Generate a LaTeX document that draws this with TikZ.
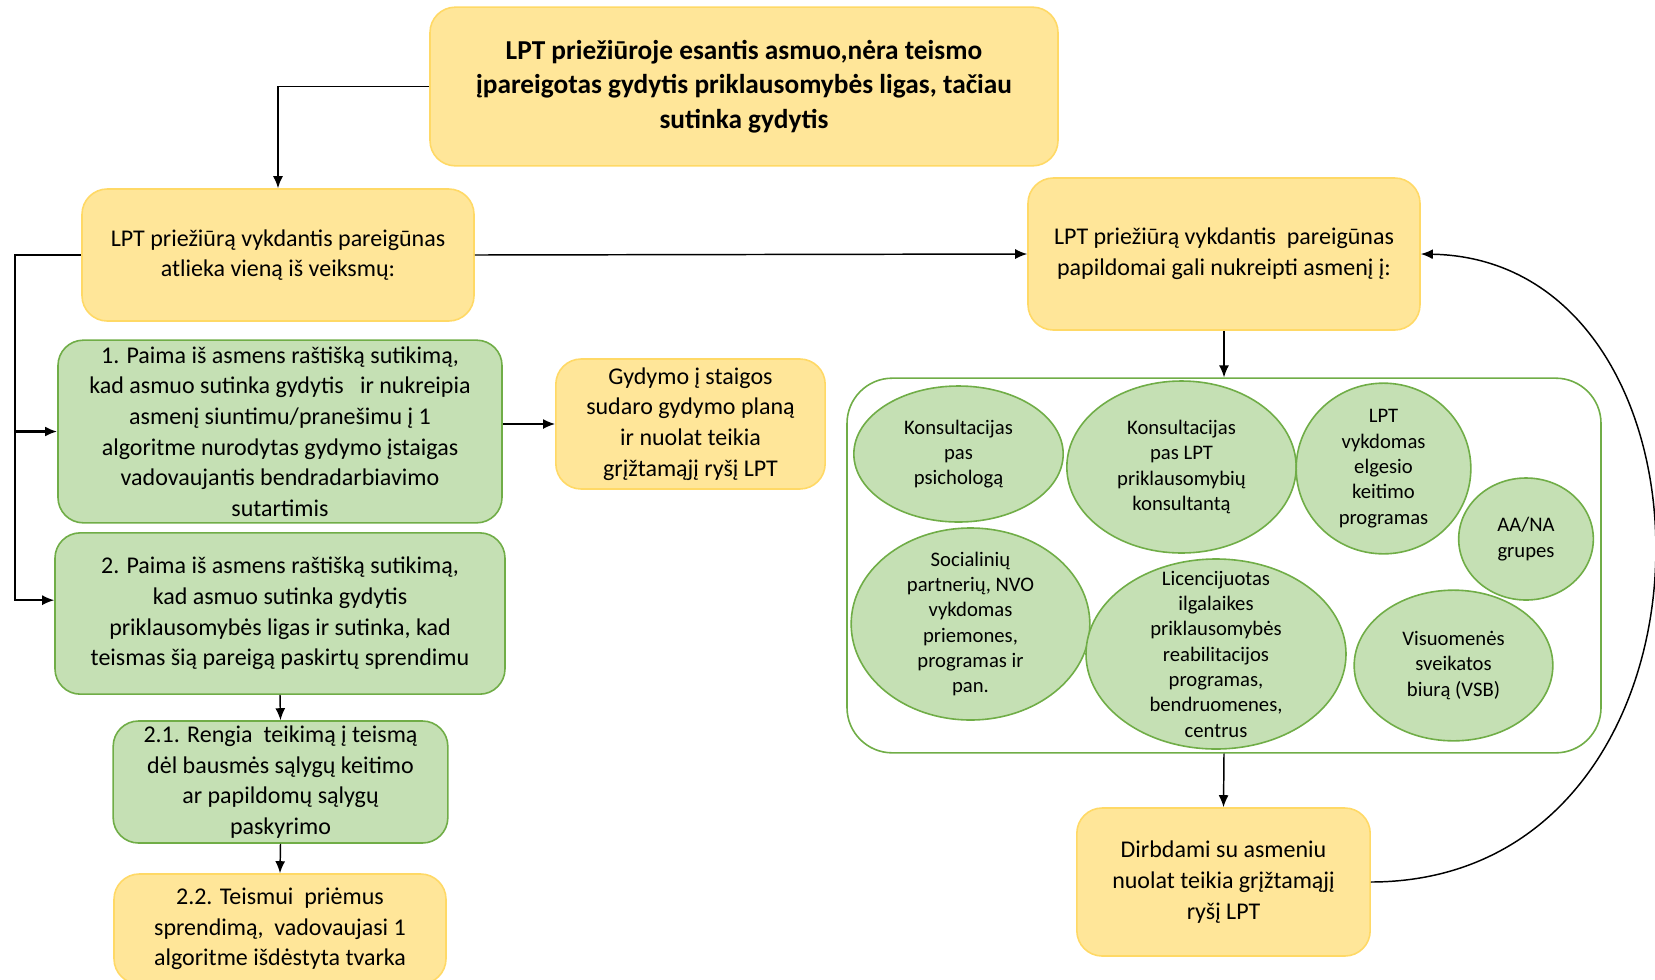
\documentclass[tikz,border=0pt]{standalone}
\usepackage{fontspec}
\setmainfont{Carlito}
\usetikzlibrary{shapes.geometric,arrows.meta}
\definecolor{ylwfill}{HTML}{FFE699}
\definecolor{ylwline}{HTML}{FFD966}
\definecolor{grnfill}{HTML}{C5E0B4}
\definecolor{grnline}{HTML}{70AD47}

\begin{document}
\begin{tikzpicture}[x=0.75pt,y=0.75pt,yscale=-1,xscale=1,>={Latex[length=9pt,width=7.5pt]},
  ybox/.style={draw=ylwline,fill=ylwfill,line width=1.2pt,rounded corners=19pt,align=center,inner sep=0pt,font=\fontsize{18}{23}\selectfont},
  gbox/.style={ybox,draw=grnline,fill=grnfill},
  bubble/.style={ellipse,draw=grnline,fill=grnfill,line width=1.2pt,inner sep=0pt},
  btext/.style={align=center,inner sep=0pt,font=\fontsize{15.5}{19}\selectfont},
  link/.style={->,line width=1.1pt}]
\useasboundingbox (0,0) rectangle (1655,979);

% Top box
\node [ybox,minimum width=471pt,minimum height=119pt,font=\fontsize{20.5}{25.7}\selectfont\bfseries] (top) at (744,86.5) {LPT priežiūroje esantis asmuo,nėra teismo\\įpareigotas gydytis priklausomybės ligas, tačiau\\sutinka gydytis};

% Left column
\node [ybox,minimum width=294pt,minimum height=99pt] (act) at (278,255) {LPT priežiūrą vykdantis pareigūnas\\atlieka vieną iš veiksmų:};
\node [gbox,minimum width=333pt,minimum height=137pt] (g1) at (280,431.5) {1. Paima iš asmens raštišką sutikimą,\\kad asmuo sutinka gydytis \ \ ir nukreipia\\asmenį siuntimu/pranešimu į 1\\algoritme nurodytas gydymo įstaigas\\vadovaujantis bendradarbiavimo\\sutartimis};
\node [ybox,minimum width=202pt,minimum height=97.5pt] (gyd) at (690.5,424) {Gydymo į staigos\\sudaro gydymo planą\\ir nuolat teikia\\grįžtamąjį ryšį LPT};
\node [gbox,minimum width=337.5pt,minimum height=121pt] (g2) at (280,613.5) {2. Paima iš asmens raštišką sutikimą,\\kad asmuo sutinka gydytis\\priklausomybės ligas ir sutinka, kad\\teismas šią pareigą paskirtų sprendimu};
\node [gbox,minimum width=251pt,minimum height=91.5pt] (g21) at (280.5,782) {2.1. Rengia \ teikimą į teismą\\dėl bausmės sąlygų keitimo\\ar papildomų sąlygų\\paskyrimo};
\node [ybox,minimum width=249pt,minimum height=82.5pt] (g22) at (280,929) {2.2. Teismui \ priėmus\\sprendimą, \ vadovaujasi 1\\algoritme išdėstyta tvarka};

% Right column
\node [ybox,minimum width=294pt,minimum height=114pt] (rbox) at (1224,254) {LPT priežiūrą vykdantis \ pareigūnas\\papildomai gali nukreipti asmenį į:};
\node [draw=grnline,line width=1.2pt,rounded corners=34pt,minimum width=565.5pt,minimum height=281pt] (cont) at (1224,565.5) {};
\node [ybox,minimum width=220pt,minimum height=111pt] (dirb) at (1223.5,882) {Dirbdami su asmeniu\\nuolat teikia grįžtamąjį\\ryšį LPT};

% Bubbles
\node [bubble,minimum width=157pt,minimum height=102pt,label={[btext]center:Konsultacijas\\pas\\psichologą}] (psi) at (958.5,454) {};
\node [bubble,minimum width=172pt,minimum height=129pt,label={[btext]center:Konsultacijas\\pas LPT\\priklausomybių\\konsultantą}] (kons) at (1181.5,467) {};
\node [bubble,minimum width=131pt,minimum height=128pt,label={[btext]center:LPT\\vykdomas\\elgesio\\keitimo\\programas}] (elg) at (1383.5,468.5) {};
\node [bubble,minimum width=101pt,minimum height=91.5pt,label={[btext]center:AA/NA\\grupes}] (aana) at (1526,539) {};
\node [bubble,minimum width=179pt,minimum height=144pt,label={[btext]center:Socialinių\\partnerių, NVO\\vykdomas\\priemones,\\programas ir\\pan.}] (soc) at (970.5,624) {};
\node [bubble,minimum width=195pt,minimum height=142.5pt,label={[btext]center:Licencijuotas\\ilgalaikes\\priklausomybės\\reabilitacijos\\programas,\\bendruomenes,\\centrus}] (lic) at (1216,654) {};
\node [bubble,minimum width=149pt,minimum height=113pt,label={[btext]center:Visuomenės\\sveikatos\\biurą (VSB)}] (vsb) at (1453.5,665.5) {};

% Connectors
\coordinate (split) at (15,431.5);
\draw [link] (top.west) -| (act.north);
\draw [link] (act.east) -- (rbox.west);
\draw [link] (act.west) -| (split) |- ([yshift=-10pt]g2.west);
\draw [link,line width=1.8pt] (split) -- (g1.west);
\draw [link] (g1.east |- gyd.west) -- (gyd.west);
\draw [link] (g2.south) -- (g21.north);
\draw [link] (g21.south) -- (g22.north);
\draw [link] (rbox.south) -- (cont.north);
\draw [link] (cont.south) -- (dirb.north);
\draw [link] (dirb.east) .. controls (1740,881) and (1740,260) .. (rbox.east);

\end{tikzpicture}
\end{document}
